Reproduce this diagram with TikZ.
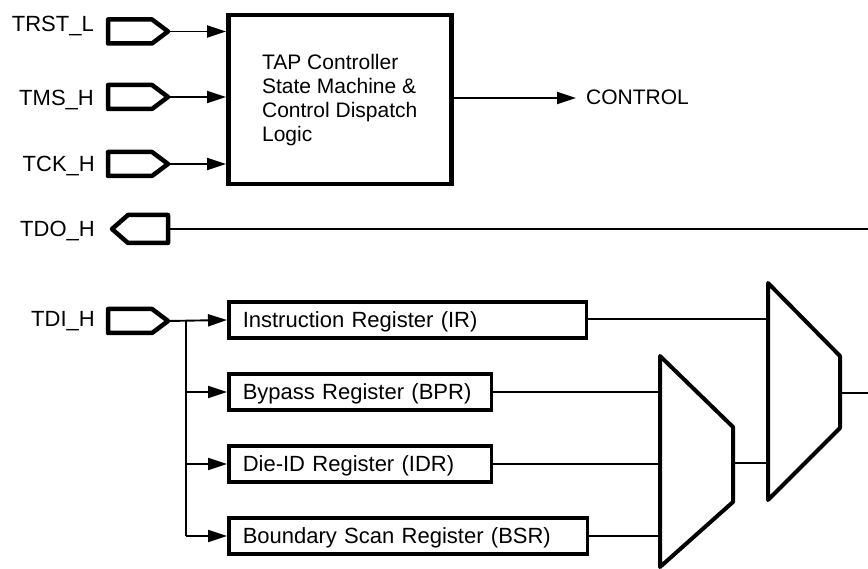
\documentclass[tikz,border=0pt]{standalone}
\usepackage{fontspec}
\setmainfont{Liberation Sans}
\usetikzlibrary{arrows.meta}
\begin{document}
\begin{tikzpicture}[x=1pt,y=-1pt,
  lbl/.style={anchor=base east,inner sep=0pt,font=\fontsize{22}{24}\selectfont},
  thin/.style={line width=1.9pt},
  arr/.style={thin,-{Triangle[length=19pt,width=12pt]}},
  pad/.style={line width=4.5pt,line join=round},
  reg/.style={draw,line width=3.5pt,anchor=west,minimum height=36pt,inner xsep=14pt,
    text height=15pt,text depth=0pt,align=left,font=\fontsize{22}{24}\selectfont},
  mux/.style={line width=4pt,line join=round}]
\useasboundingbox (0,0) rectangle (868,569);
% labels
\node[lbl] (lTRST) at (94,32) {TRST\_L};
\node[lbl] (lTMS) at (94,106) {TMS\_H};
\node[lbl] (lTCK) at (95,172) {TCK\_H};
\node[lbl] (lTDO) at (95,237) {TDO\_H};
\node[lbl] (lTDI) at (95,327) {TDI\_H};
% input pads (pointing right)
\newcommand\padright[2]{%
  \draw[pad] (108,#2-12) -- (152,#2-12) -- (168,#2) -- (152,#2+12) -- (108,#2+12) -- cycle;
  \coordinate (#1) at (168,#2);}
\padright{pTRST}{31.5}
\padright{pTMS}{97}
\padright{pTCK}{164}
\padright{pTDI}{321}
% output pad (pointing left)
\draw[pad] (112,229) -- (128,215) -- (168,215) -- (168,243) -- (128,243) -- cycle;
\coordinate (pTDO) at (168,229);
% TAP box
\node[draw,line width=4.5pt,minimum width=223pt,minimum height=169pt,anchor=north west,
  align=left,font=\fontsize{21}{24}\selectfont] (tap) at (226,13)
  {TAP Controller\\State Machine \&\\Control Dispatch\\Logic};
\draw[arr] (pTRST) -- (pTRST -| tap.west);
\draw[arr] (pTMS) -- (pTMS -| tap.west);
\draw[arr] (pTCK) -- (pTCK -| tap.west);
\coordinate (ctl) at (576,98);
\draw[arr] (tap.east |- ctl) -- (ctl);
\node[anchor=base west,inner sep=0pt,font=\fontsize{21}{24}\selectfont] (control) at (586,105) {CONTROL};
% TDO line
\coordinate (tdoEnd) at (868,229);
\draw[thin] (pTDO) -- (tdoEnd);
% registers
\node[reg,text width=329.5pt] (ir) at (227,320) {Instruction Register (IR)};
\node[reg,text width=234.5pt] (bpr) at (227,392) {Bypass Register (BPR)};
\node[reg,text width=234.5pt] (idr) at (227,464) {Die-ID Register (IDR)};
\node[reg,text width=330.5pt] (bsr) at (227,536) {Boundary Scan Register (BSR)};
\coordinate (br) at (186,321);
\draw[arr] (pTDI) -- (ir.west);
\draw[thin] (br) -- (186,536);
\draw[arr] (186,392) -- (bpr.west);
\draw[arr] (186,464) -- (idr.west);
\draw[arr] (186,536) -- (bsr.west);
% muxes
\draw[mux] (660,356) -- (733,427) -- (733,502) -- (660,567) -- cycle;
\draw[mux] (768,283) -- (840,356) -- (840,428) -- (768,500) -- cycle;
\coordinate (m1a) at (660,392);
\coordinate (m1b) at (660,464);
\coordinate (m1c) at (660,536);
\coordinate (m1o) at (733,463);
\coordinate (m2a) at (768,319);
\coordinate (m2b) at (768,463);
\coordinate (m2o) at (840,393);
\coordinate (outEnd) at (868,393);
\draw[thin] (ir.east |- m2a) -- (m2a);
\draw[thin] (bpr.east) -- (m1a);
\draw[thin] (idr.east) -- (m1b);
\draw[thin] (bsr.east) -- (m1c);
\draw[thin] (m1o) -- (m2b);
\draw[thin] (m2o) -- (outEnd);
\end{tikzpicture}
\end{document}
